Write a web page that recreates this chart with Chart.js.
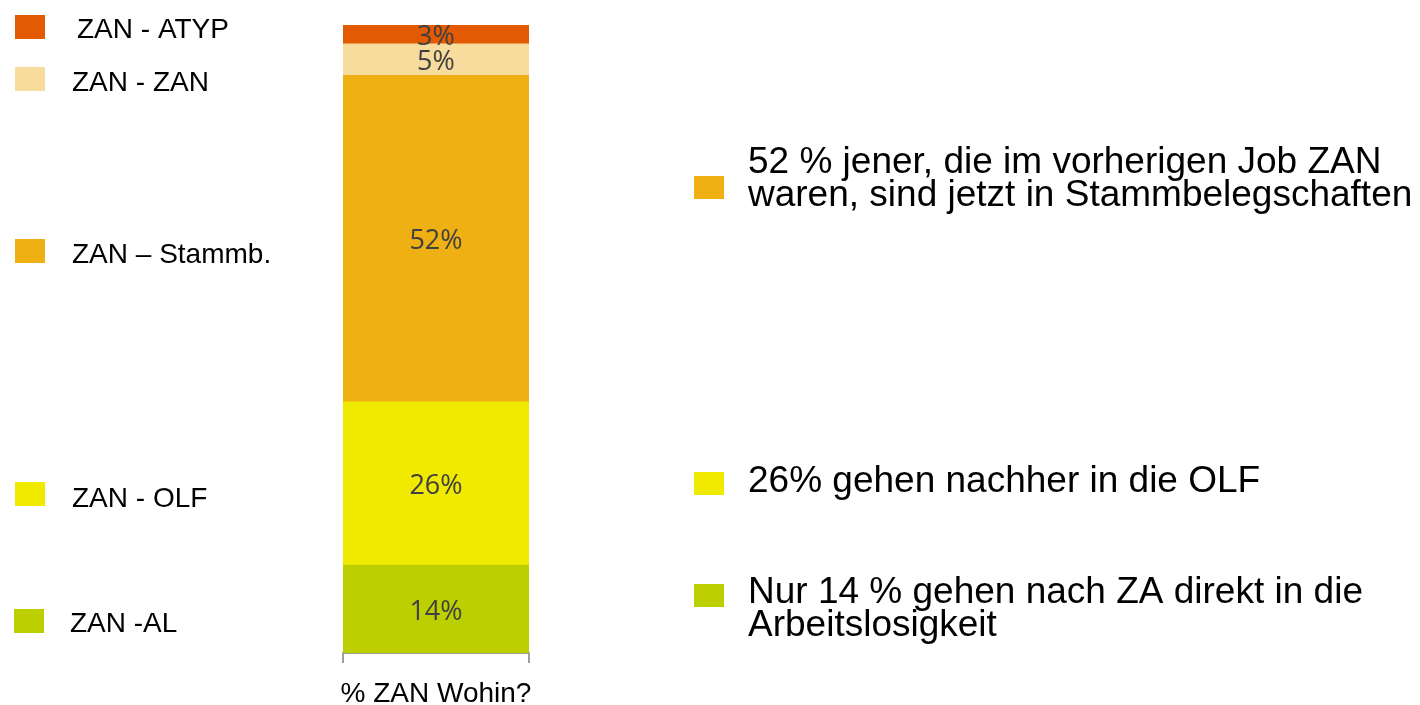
<!DOCTYPE html>
<html>
<head>
<meta charset="utf-8">
<script src="https://cdn.jsdelivr.net/npm/chart.js@4.4.1/dist/chart.umd.min.js"></script>
<style>
  html, body { margin: 0; padding: 0; background: #ffffff; }
  #wrap { width: 1420px; height: 705px; position: relative; }
</style>
</head>
<body>
<div id="wrap"><canvas id="chart"></canvas></div>
<script>
// Daten (von unten nach oben gestapelt)
const categories = ['% ZAN Wohin?'];
const seriesNames = ['ZAN -AL', 'ZAN - OLF', 'ZAN \u2013 Stammb.', 'ZAN - ZAN', 'ZAN - ATYP'];
const seriesValues = [14, 26, 52, 5, 3];
const seriesColors = ['#bcd001', '#efea00', '#efb013', '#f7dc9d', '#e45a02'];

// Legende links (oben nach unten)
const legendOrder = [4, 3, 2, 1, 0];

// Kommentare rechts
const notes = [
    ['52 % jener, die im vorherigen Job ZAN', 'waren, sind jetzt in Stammbelegschaften'],
    ['26% gehen nachher in die OLF'],
    ['Nur 14 % gehen nach ZA direkt in die', 'Arbeitslosigkeit']
];
const noteSeries = [2, 1, 0];

// Layout der Texte
const LEGEND = {
    boxX: [15, 15, 15, 15, 14],
    boxY: [15, 67, 239, 482, 609],
    textX: [77, 72, 72, 72, 70],
    textY: [38, 91, 263, 507, 632]
};
const NOTES = {
    boxX: 694,
    boxY: [176, 472, 584],
    textX: 748,
    textY: [173, 492, 603],
    lineGap: 33
};

// Prozentwerte in den Segmenten
const valueLabels = {
    id: 'valueLabels',
    afterDatasetsDraw(chart) {
        const ctx = chart.ctx;
        ctx.save();
        ctx.font = "27px 'Open Sans', sans-serif";
        ctx.fillStyle = '#404040';
        ctx.textAlign = 'center';
        ctx.textBaseline = 'middle';
        chart.data.datasets.forEach((ds, i) => {
            const bar = chart.getDatasetMeta(i).data[0];
            if (!bar) return;
            const y = (bar.y + bar.base) / 2 + 3;
            ctx.fillText(ds.data[0] + '%', bar.x, y);
        });
        ctx.restore();
    }
};

// Legende links und Kommentare rechts
const sideTexts = {
    id: 'sideTexts',
    afterDraw(chart) {
        const ctx = chart.ctx;
        ctx.save();
        ctx.textAlign = 'left';
        ctx.textBaseline = 'alphabetic';

        ctx.font = "28px 'Liberation Sans', Arial, sans-serif";
        legendOrder.forEach((s, i) => {
            ctx.fillStyle = seriesColors[s];
            ctx.fillRect(LEGEND.boxX[i], LEGEND.boxY[i], 30, 24);
            ctx.fillStyle = '#000000';
            ctx.fillText(seriesNames[s], LEGEND.textX[i], LEGEND.textY[i]);
        });

        ctx.font = "37px 'Liberation Sans', Arial, sans-serif";
        notes.forEach((lines, i) => {
            ctx.fillStyle = seriesColors[noteSeries[i]];
            ctx.fillRect(NOTES.boxX, NOTES.boxY[i], 30, 23);
            ctx.fillStyle = '#000000';
            lines.forEach((line, j) => {
                ctx.fillText(line, NOTES.textX, NOTES.textY[i] + j * NOTES.lineGap);
            });
        });
        ctx.restore();
    }
};

const ctx = document.getElementById('chart').getContext('2d');
new Chart(ctx, {
    type: 'bar',
    data: {
        labels: categories,
        datasets: seriesNames.map((name, i) => ({
            label: name,
            data: [seriesValues[i]],
            backgroundColor: seriesColors[i],
            borderWidth: 0,
            barPercentage: 1,
            categoryPercentage: 1
        }))
    },
    options: {
        responsive: true,
        maintainAspectRatio: false,
        animation: false,
        layout: {
            padding: { left: 343, right: 891, top: 25, bottom: 0 }
        },
        plugins: {
            legend: { display: false },
            tooltip: { enabled: false }
        },
        scales: {
            x: {
                stacked: true,
                afterFit: scale => { scale.height = 52; },
                grid: {
                    display: true,
                    drawOnChartArea: false,
                    drawTicks: true,
                    tickLength: 10,
                    color: '#a0a0a0',
                    lineWidth: 2,
                    offset: true
                },
                border: {
                    display: true,
                    color: '#a0a0a0',
                    width: 2
                },
                ticks: {
                    color: '#000000',
                    padding: 17,
                    font: {
                        family: "'Liberation Sans', Arial, sans-serif",
                        size: 28,
                        lineHeight: 1
                    }
                }
            },
            y: {
                stacked: true,
                display: false,
                min: 0,
                max: 100
            }
        }
    },
    plugins: [valueLabels, sideTexts]
});
</script>
</body>
</html>
